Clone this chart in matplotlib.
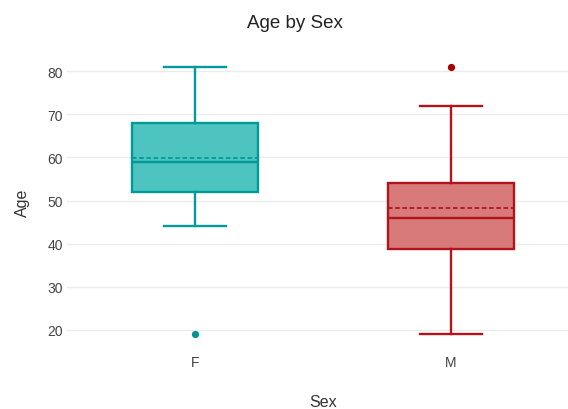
import matplotlib
matplotlib.use("Agg")
import matplotlib.pyplot as plt

plt.rcParams['font.family'] = ['Liberation Sans', 'DejaVu Sans']

# summary statistics per group
groups = ["F", "M"]
q1 = [52, 38.75]
median = [59, 46]
q3 = [68, 54]
whisker_low = [44, 19]
whisker_high = [81, 72]
means = [59.9, 48.2]
outliers = [[19], [81]]

edge_colors = ["#009a9a", "#b3141c"]
fill_colors = ["#4dc4bf", "#d87a7a"]
flier_colors = ["#009494", "#a80000"]

stats = []
for i, g in enumerate(groups):
    stats.append(dict(label=g, q1=q1[i], med=median[i], q3=q3[i],
                      whislo=whisker_low[i], whishi=whisker_high[i],
                      mean=means[i], fliers=outliers[i]))

fig = plt.figure(figsize=(5.68, 4.10), dpi=100)
W, H = 568, 410
# plot area runs past the right edge of the figure
ax = fig.add_axes([67 / W, 1 - 348 / H, (579 - 67) / W, (348 - 55) / H])

for i, s in enumerate(stats):
    ec = edge_colors[i]
    ax.bxp([s], positions=[i], widths=0.49, patch_artist=True,
           showmeans=True, meanline=True,
           boxprops=dict(facecolor=fill_colors[i], edgecolor=ec, linewidth=1.7),
           medianprops=dict(color=ec, linewidth=1.7),
           meanprops=dict(color=ec, linewidth=1.3, linestyle=(0, (2.5, 1.5))),
           whiskerprops=dict(color=ec, linewidth=1.7),
           capprops=dict(color=ec, linewidth=1.7),
           capwidths=0.24,
           flierprops=dict(marker="o", markersize=4.2,
                           markerfacecolor=flier_colors[i],
                           markeredgecolor=flier_colors[i]))

ax.set_xlim(-0.5, 1.5)
ax.set_ylim(16, 84)
ax.set_yticks([20, 30, 40, 50, 60, 70, 80])
ax.set_xticks([0, 1])
ax.set_xticklabels(groups)
ax.grid(axis="y", color="#ebebeb", linewidth=1.0)
ax.set_axisbelow(True)
for sp in ax.spines.values():
    sp.set_visible(False)
ax.tick_params(length=0, labelsize=10, labelcolor="#444444")
ax.tick_params(axis="y", pad=3)
ax.tick_params(axis="x", pad=6)

fig.text(295 / W, 1 - 24 / H, "Age by Sex", ha="center", va="center",
         fontsize=13.5, color="#222222")
fig.text(323 / W, 1 - 403 / H, "Sex", ha="center", va="center",
         fontsize=11.5, color="#333333")
fig.text(22 / W, 1 - 203 / H, "Age", ha="center", va="center",
         rotation=90, fontsize=11.5, color="#333333")

fig.savefig("out.png", dpi=100, facecolor="white")
